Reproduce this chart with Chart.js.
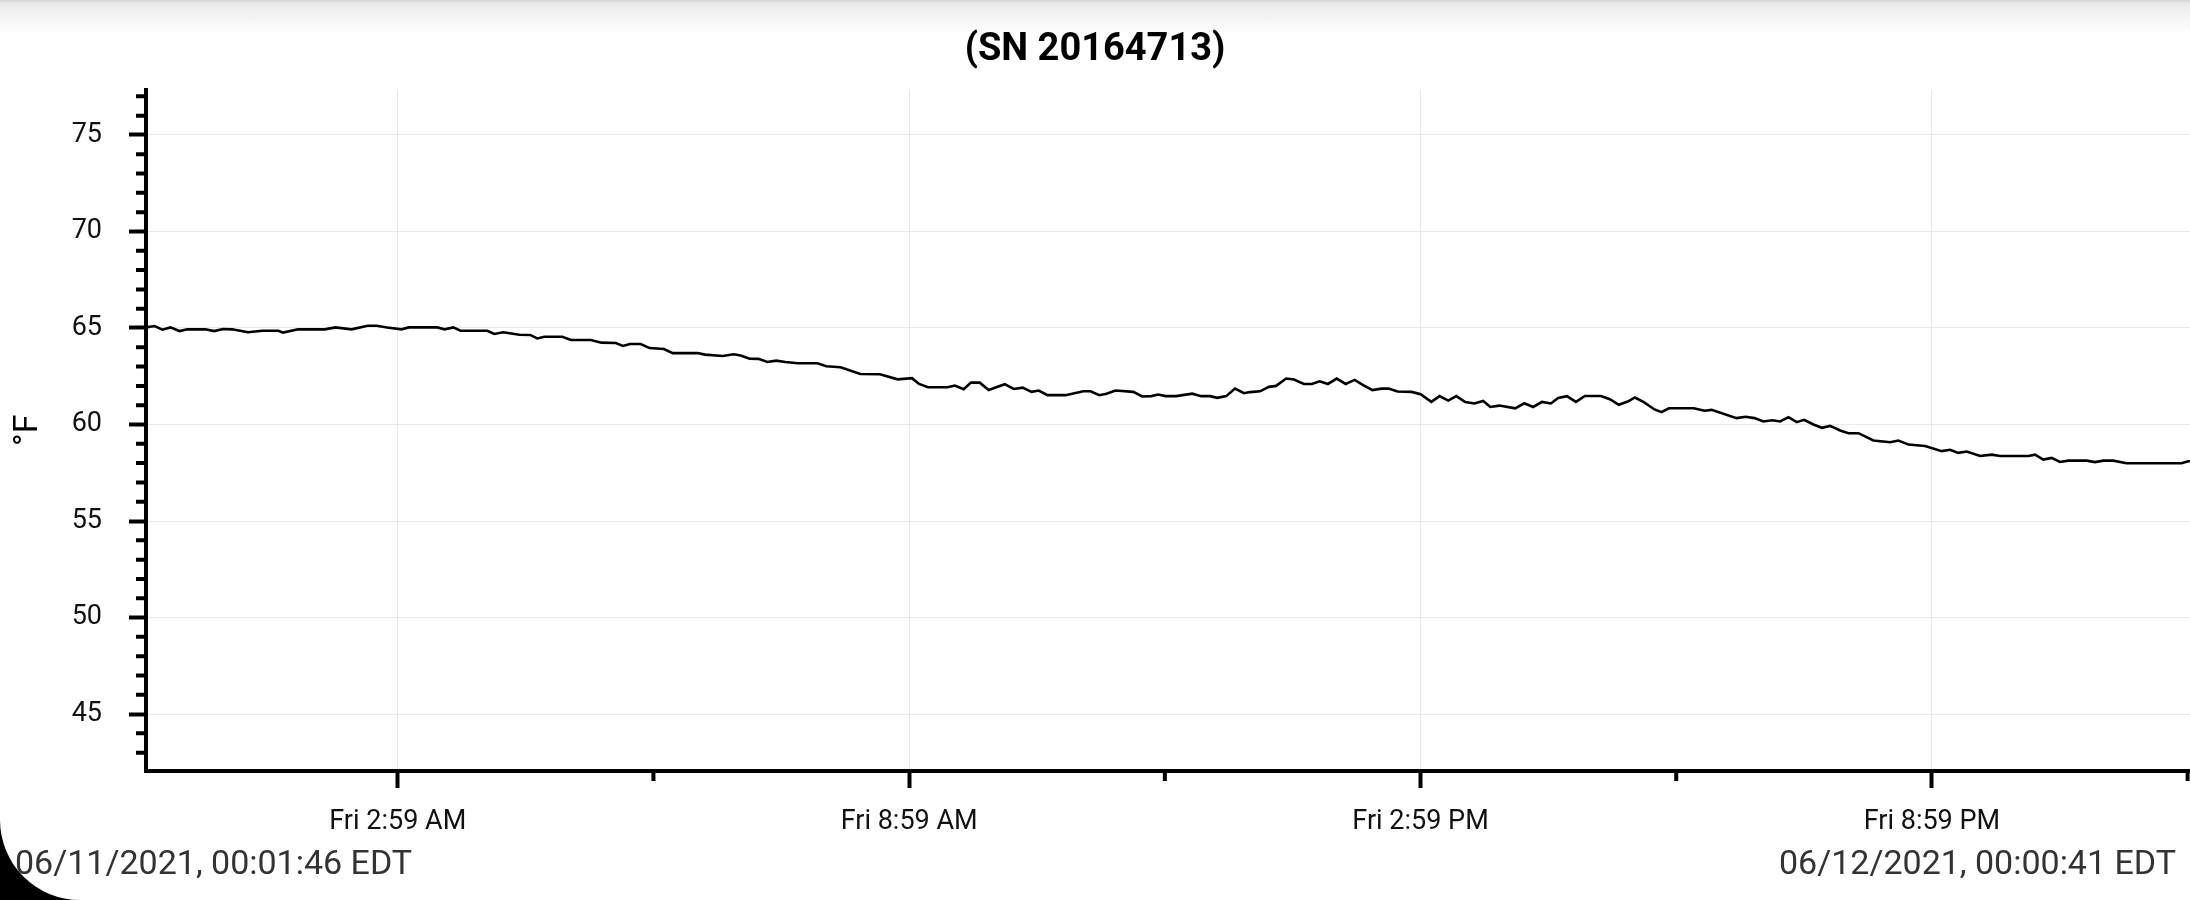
<!DOCTYPE html>
<html>
<head>
<meta charset="utf-8">
<script src="https://cdn.jsdelivr.net/npm/chart.js@4.4.1/dist/chart.umd.min.js"></script>
<style>
  html, body { margin: 0; padding: 0; background: #000; width: 2190px; height: 900px; overflow: hidden; }
  .screen { position: absolute; left: 0; top: 0; width: 2190px; height: 900px; background: #fff; border-bottom-left-radius: 80px; overflow: hidden; }
  .shade { position: absolute; left: 0; top: 0; width: 100%; height: 34px; background: linear-gradient(#d6d6d6 0px, #ebebeb 4px, #fff 34px); }
  canvas { position: absolute; left: 0; top: 0; }
  .stamp { position: absolute; top: 845px; font: 34px/34px Roboto, sans-serif; color: #333; white-space: nowrap; }
</style>
</head>
<body>
<div class="screen">
  <div class="shade"></div>
  <canvas id="logChart" width="2190" height="900"></canvas>
  <div class="stamp" style="left:15px">06/11/2021, 00:01:46 EDT</div>
  <div class="stamp" style="right:14px">06/12/2021, 00:00:41 EDT</div>
</div>
<script>
// minutes since midnight 06/11/2021
const startMin = 1.767;   // 00:01:46
const endMin = 1440.683;  // 00:00:41 next day

const times = [
  1.8, 7.8, 13.3, 18.9, 25.4, 30.9, 43.5, 49.8, 56.0, 62.4, 73.6, 83.7, 95.0, 98.3,
  108.8, 127.6, 135.2, 146.5, 157.8, 164.1, 171.6, 181.7, 186.7, 206.8, 211.9, 218.1,
  223.1, 242.0, 247.0, 253.3, 264.6, 272.2, 277.2, 282.2, 294.8, 301.0, 314.9, 322.4,
  332.5, 337.5, 342.5, 350.0, 356.3, 366.4, 372.6, 390.0, 395.3, 407.8, 415.4, 420.4,
  426.7, 432.9, 439.2, 445.5, 451.8, 460.6, 474.4, 480.7, 490.7, 504.6, 518.4, 530.9,
  541.0, 546.0, 552.3, 566.1, 571.2, 577.4, 582.5, 588.7, 595.0, 606.3, 612.6, 618.9,
  625.2, 630.2, 636.5, 649.1, 661.6, 666.7, 672.9, 678.0, 684.2, 696.8, 703.1, 709.4,
  714.4, 719.4, 727.0, 738.3, 744.6, 750.8, 755.9, 762.2, 768.4, 774.7, 779.0, 786.0,
  792.3, 797.3, 804.4, 809.9, 816.9, 822.5, 828.0, 833.8, 840.0, 846.3, 852.6, 858.9,
  865.2, 871.5, 876.5, 882.8, 892.8, 899.1, 906.6, 912.4, 918.5, 924.2, 930.5, 936.8,
  943.1, 948.1, 954.4, 965.7, 972.0, 978.3, 984.5, 990.8, 995.9, 1002.1, 1008.4, 1014.7,
  1026.0, 1032.3, 1038.6, 1044.9, 1049.9, 1056.2, 1063.7, 1068.7, 1073.8, 1091.4, 1098.9,
  1103.9, 1121.5, 1127.8, 1134.1, 1140.4, 1146.6, 1152.2, 1158.0, 1163.9, 1169.0, 1175.6,
  1181.5, 1187.3, 1194.4, 1200.2, 1207.3, 1217.8, 1229.6, 1235.4, 1242.5, 1254.2, 1265.9,
  1271.8, 1277.6, 1283.5, 1292.9, 1301.1, 1306.9, 1326.9, 1331.6, 1337.4, 1343.3, 1349.1,
  1355.0, 1367.9, 1373.8, 1379.6, 1386.7, 1396.0, 1434.7, 1439.4, 1440.7
];

const temps = [
  65.03, 65.10, 64.91, 65.03, 64.84, 64.93, 64.93, 64.84, 64.95, 64.93, 64.78, 64.86, 64.86, 64.76,
  64.93, 64.93, 65.03, 64.93, 65.12, 65.12, 65.03, 64.93, 65.03, 65.03, 64.93, 65.03,
  64.86, 64.86, 64.69, 64.78, 64.65, 64.64, 64.46, 64.55, 64.55, 64.38, 64.38, 64.24,
  64.22, 64.07, 64.17, 64.17, 63.96, 63.91, 63.70, 63.70, 63.62, 63.55, 63.64, 63.57,
  63.41, 63.40, 63.24, 63.31, 63.24, 63.17, 63.17, 63.02, 62.97, 62.62, 62.60, 62.34,
  62.40, 62.10, 61.93, 61.93, 62.02, 61.83, 62.17, 62.17, 61.79, 62.09, 61.84, 61.91,
  61.69, 61.76, 61.52, 61.52, 61.72, 61.72, 61.52, 61.59, 61.76, 61.69, 61.45, 61.47,
  61.55, 61.47, 61.47, 61.60, 61.47, 61.47, 61.38, 61.47, 61.86, 61.62, 61.68, 61.72,
  61.95, 62.00, 62.38, 62.33, 62.10, 62.10, 62.24, 62.10, 62.38, 62.10, 62.31, 62.03,
  61.78, 61.86, 61.86, 61.71, 61.69, 61.57, 61.17, 61.47, 61.24, 61.47, 61.16, 61.09,
  61.22, 60.91, 60.98, 60.84, 61.10, 60.91, 61.17, 61.09, 61.38, 61.47, 61.17, 61.48,
  61.48, 61.31, 61.02, 61.19, 61.40, 61.16, 60.78, 60.64, 60.84, 60.84, 60.71,
  60.76, 60.33, 60.40, 60.33, 60.16, 60.22, 60.16, 60.38, 60.12, 60.24, 60.00,
  59.83, 59.93, 59.69, 59.55, 59.55, 59.17, 59.08, 59.17, 58.96, 58.89, 58.62,
  58.69, 58.53, 58.60, 58.37, 58.44, 58.37, 58.37, 58.44, 58.18, 58.27, 58.06,
  58.13, 58.13, 58.05, 58.13, 58.13, 57.99, 57.99, 58.10, 58.10
];

// axis ticks
const majorX = [179, 539, 899, 1259];      // 2:59 AM, 8:59 AM, 2:59 PM, 8:59 PM
const minorX = [359, 719, 1079, 1439];
const majorY = [45, 50, 55, 60, 65, 70, 75];
const minorY = [43, 44, 46, 47, 48, 49, 51, 52, 53, 54, 56, 57, 58, 59, 61, 62, 63, 64, 66, 67, 68, 69, 71, 72, 73, 74, 76, 77];

function clock(m) {
  const h = Math.floor(m / 60) % 24;
  const mm = Math.round(m % 60);
  const h12 = h % 12 === 0 ? 12 : h % 12;
  return "Fri " + h12 + ":" + String(mm).padStart(2, "0") + (h < 12 ? " AM" : " PM");
}

// short unlabeled ticks between the major ones
const minorTicks = {
  id: "minorTicks",
  afterDraw(chart) {
    const { ctx, scales: { x, y } } = chart;
    ctx.save();
    ctx.strokeStyle = "#000";
    ctx.lineWidth = 4;
    ctx.beginPath();
    minorX.forEach((v) => {
      const px = x.getPixelForValue(v);
      ctx.moveTo(px, x.top);
      ctx.lineTo(px, x.top + 10);
    });
    minorY.forEach((v) => {
      const py = y.getPixelForValue(v);
      ctx.moveTo(y.right - 10, py);
      ctx.lineTo(y.right, py);
    });
    ctx.stroke();
    ctx.restore();
  },
};

Chart.defaults.font.family = "Roboto";

const ctx = document.getElementById("logChart").getContext("2d");
new Chart(ctx, {
  type: "line",
  data: {
    datasets: [
      {
        data: times.map((t, i) => ({ x: t, y: temps[i] })),
        borderColor: "#000",
        borderWidth: 2.6,
        pointRadius: 0,
        tension: 0,
        fill: false,
      },
    ],
  },
  options: {
    responsive: false,
    animation: false,
    devicePixelRatio: 1,
    layout: { padding: { top: 0, left: 0, right: 0, bottom: 69 } },
    plugins: {
      legend: { display: false },
      tooltip: { enabled: false },
      title: {
        display: true,
        text: "(SN 20164713)",
        color: "#000",
        font: { size: 38, weight: "bold" },
        padding: { top: 28, bottom: 16 },
      },
    },
    scales: {
      x: {
        type: "linear",
        min: startMin,
        max: endMin,
        afterBuildTicks: (s) => { s.ticks = majorX.map((v) => ({ value: v })); },
        afterFit: (s) => { s.height = 60; },
        ticks: {
          autoSkip: false,
          maxRotation: 0,
          padding: 18,
          color: "#111",
          font: { size: 27 },
          callback: (v) => clock(v),
        },
        grid: { color: "#e8e8e8", lineWidth: 1, tickLength: 17, tickWidth: 4, tickColor: "#000" },
        border: { color: "#000", width: 4 },
      },
      y: {
        min: 42.05,
        max: 77.35,
        afterBuildTicks: (s) => { s.ticks = majorY.map((v) => ({ value: v })); },
        afterFit: (s) => { s.width = 146; },
        ticks: {
          autoSkip: false,
          padding: 27,
          color: "#111",
          font: { size: 27 },
        },
        grid: { color: "#e8e8e8", lineWidth: 1, tickLength: 17, tickWidth: 4, tickColor: "#000" },
        border: { color: "#000", width: 4 },
        title: {
          display: true,
          text: "°F",
          color: "#000",
          font: { size: 34 },
          padding: { top: 8, bottom: 0 },
        },
      },
    },
  },
  plugins: [minorTicks],
});
</script>
</body>
</html>
